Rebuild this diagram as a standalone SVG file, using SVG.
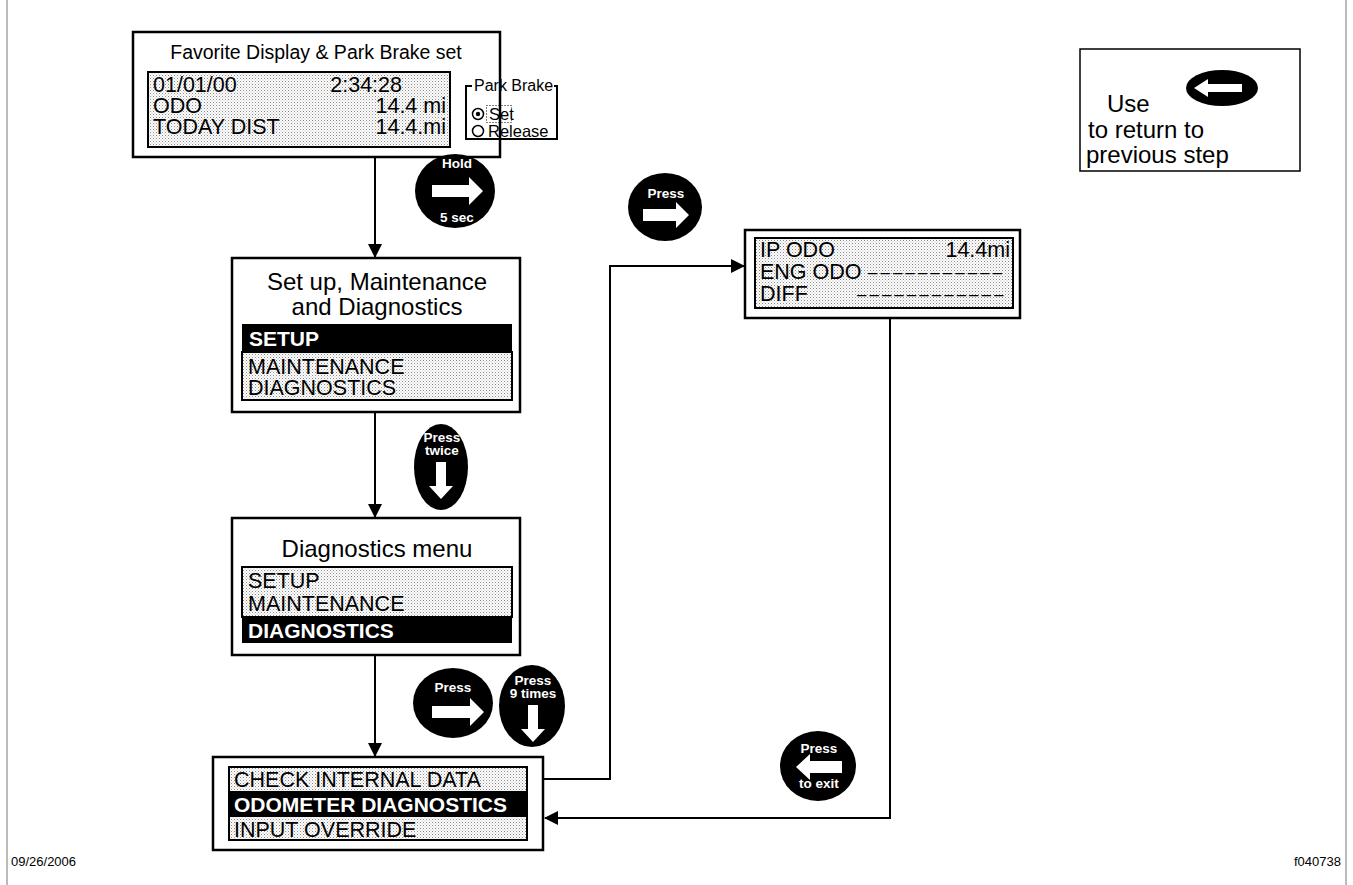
<svg xmlns="http://www.w3.org/2000/svg" width="1353" height="885" viewBox="0 0 1353 885">
<defs>
<pattern id="dots" patternUnits="userSpaceOnUse" width="3" height="3">
<rect width="3" height="3" fill="#ffffff"/>
<rect x="0" y="0" width="1" height="1" fill="#8a8a8a"/>
<rect x="1.5" y="1.5" width="1" height="1" fill="#b0b0b0"/>
</pattern>
<marker id="ah" markerWidth="14" markerHeight="14" refX="13" refY="7" orient="auto" markerUnits="userSpaceOnUse">
<path d="M0,0 L14,7 L0,14 Z" fill="#000"/>
</marker>
</defs>
<style>
.box{fill:#fff;stroke:#000;stroke-width:2.5}
.lcd{fill:url(#dots);stroke:#000;stroke-width:2}
.bar{fill:#000}
.t{font-family:"Liberation Sans",Arial,sans-serif;fill:#000}
.title{font-size:24px}
.row{font-size:21.5px}
.hi{font-size:21px;font-weight:bold;fill:#fff}
.btn{fill:#000}
.bl{font-family:"Liberation Sans",Arial,sans-serif;font-size:13.5px;font-weight:bold;fill:#fff;text-anchor:middle}
.wa{fill:#fff}
.con{fill:none;stroke:#000;stroke-width:2}
.small{font-size:13px}
.dash{font-size:17px;letter-spacing:3px}
</style>

<g id="frame">
<line x1="7" y1="0" x2="7" y2="885" stroke="#777" stroke-width="1"/>
<line x1="1346" y1="0" x2="1346" y2="885" stroke="#777" stroke-width="1"/>
</g>

<g id="connectors">
<line class="con" x1="375" y1="158" x2="375" y2="257" marker-end="url(#ah)"/>
<line class="con" x1="375" y1="413" x2="375" y2="517" marker-end="url(#ah)"/>
<line class="con" x1="375" y1="656" x2="375" y2="756" marker-end="url(#ah)"/>
<polyline class="con" points="543,779 610,779 610,266 744,266" marker-end="url(#ah)"/>
<polyline class="con" points="890,318 890,818 545,818" marker-end="url(#ah)"/>
</g>

<g id="favorite-display">
<rect class="box" x="133" y="32" width="367" height="125"/>
<text class="t" font-size="19.5" x="316" y="59" text-anchor="middle">Favorite Display &amp; Park Brake set</text>
<rect class="lcd" x="148" y="72" width="302" height="75"/>
<text class="t row" x="153" y="92">01/01/00</text>
<text class="t row" x="402" y="92" text-anchor="end">2:34:28</text>
<text class="t row" x="153" y="112.5">ODO</text>
<text class="t row" x="446" y="112.5" text-anchor="end">14.4 mi</text>
<text class="t row" x="153" y="133.5">TODAY DIST</text>
<text class="t row" x="446" y="133.5" text-anchor="end">14.4.mi</text>
<polyline fill="none" stroke="#000" stroke-width="2" points="472,86 466,86 466,139 557,139 557,86 554,86"/>
<text class="t" x="474" y="91" font-size="16">Park Brake</text>
<circle cx="478" cy="114" r="5.5" fill="none" stroke="#000" stroke-width="1.5"/>
<circle cx="478" cy="114" r="2.2" fill="#000"/>
<rect x="486.5" y="105.5" width="25" height="17" fill="none" stroke="#000" stroke-width="1" stroke-dasharray="1,2"/>
<text class="t" x="489" y="120" font-size="16.5">Set</text>
<circle cx="478" cy="131" r="5.5" fill="none" stroke="#000" stroke-width="1.5"/>
<text class="t" x="488" y="137" font-size="16.5">Release</text>
</g>

<g id="use-note">
<rect fill="#fff" stroke="#000" stroke-width="1.5" x="1080" y="49" width="220" height="122"/>
<text class="t title" x="1107" y="112">Use</text>
<text class="t title" x="1088" y="138">to return to</text>
<text class="t title" x="1086" y="163">previous step</text>
<ellipse class="btn" cx="1222" cy="88" rx="36" ry="18"/>
<polygon class="wa" points="1194,88 1208,79 1208,84 1242,84 1242,92 1208,92 1208,97"/>
</g>

<g id="btn-hold">
<ellipse class="btn" cx="455" cy="191" rx="40" ry="37"/>
<text class="bl" x="457" y="168">Hold</text>
<polygon class="wa" points="432,185 469,185 469,177 483,191 469,205 469,197 432,197"/>
<text class="bl" x="457" y="222">5 sec</text>
</g>

<g id="setup-menu">
<rect class="box" x="232" y="258" width="288" height="154"/>
<text class="t title" x="377" y="290" text-anchor="middle">Set up, Maintenance</text>
<text class="t title" x="377" y="315" text-anchor="middle">and Diagnostics</text>
<rect class="bar" x="242" y="324" width="270" height="28"/>
<text class="t hi" x="249" y="346">SETUP</text>
<rect class="lcd" x="242" y="352" width="270" height="48"/>
<text class="t row" x="248" y="374">MAINTENANCE</text>
<text class="t row" x="248" y="395">DIAGNOSTICS</text>
</g>

<g id="btn-press-twice">
<ellipse class="btn" cx="441" cy="467" rx="27" ry="43"/>
<text class="bl" x="442" y="442">Press</text>
<text class="bl" x="442" y="455">twice</text>
<polygon class="wa" points="436,462 446,462 446,486 453,486 441,499 429,486 436,486"/>
</g>

<g id="diagnostics-menu">
<rect class="box" x="232" y="518" width="288" height="137"/>
<text class="t title" x="377" y="557" text-anchor="middle">Diagnostics menu</text>
<rect class="lcd" x="242" y="567" width="270" height="50"/>
<text class="t row" x="248" y="588">SETUP</text>
<text class="t row" x="248" y="611">MAINTENANCE</text>
<rect class="bar" x="242" y="617" width="270" height="26"/>
<text class="t hi" x="248" y="638">DIAGNOSTICS</text>
</g>

<g id="btn-press-right">
<ellipse class="btn" cx="453" cy="703" rx="40" ry="35"/>
<text class="bl" x="453" y="692">Press</text>
<polygon class="wa" points="432,706 470,706 470,698 484,712 470,726 470,718 432,718"/>
</g>

<g id="btn-press-9">
<ellipse class="btn" cx="532" cy="706" rx="33" ry="41"/>
<text class="bl" x="533" y="685">Press</text>
<text class="bl" x="533" y="698">9 times</text>
<polygon class="wa" points="528,705 538,705 538,729 545,729 533,742 521,729 528,729"/>
</g>

<g id="odometer-list">
<rect class="box" x="213" y="757" width="330" height="93"/>
<rect class="lcd" x="229" y="767" width="298" height="25"/>
<text class="t row" x="234" y="787">CHECK INTERNAL DATA</text>
<rect class="bar" x="229" y="792" width="298" height="24"/>
<text class="t hi" x="234" y="812">ODOMETER DIAGNOSTICS</text>
<rect class="lcd" x="229" y="816" width="298" height="24"/>
<text class="t row" x="234" y="837">INPUT OVERRIDE</text>
<rect x="229" y="767" width="298" height="73" fill="none" stroke="#000" stroke-width="2"/>
</g>

<g id="btn-press-top">
<ellipse class="btn" cx="665" cy="207" rx="37" ry="34"/>
<text class="bl" x="666" y="198">Press</text>
<polygon class="wa" points="643,209 676,209 676,202 689,215 676,228 676,221 643,221"/>
</g>

<g id="odo-display">
<rect class="box" x="745" y="230" width="275" height="88"/>
<rect class="lcd" x="755" y="238" width="258" height="70"/>
<text class="t row" x="760" y="257">IP ODO</text>
<text class="t row" x="1010" y="257" text-anchor="end">14.4mi</text>
<text class="t row" x="760" y="279">ENG ODO</text>
<text class="t dash" x="868" y="278">–––––––––––</text>
<text class="t row" x="760" y="301">DIFF</text>
<text class="t dash" x="857" y="300">––––––––––––</text>
</g>

<g id="btn-press-exit">
<ellipse class="btn" cx="818" cy="766" rx="38" ry="35"/>
<text class="bl" x="819" y="753">Press</text>
<polygon class="wa" points="796,767 810,754 810,761 842,761 842,773 810,773 810,780"/>
<text class="bl" x="819" y="788">to exit</text>
</g>

<g id="footer">
<text class="t small" x="11" y="866">09/26/2006</text>
<text class="t small" x="1341" y="866" text-anchor="end">f040738</text>
</g>
</svg>
